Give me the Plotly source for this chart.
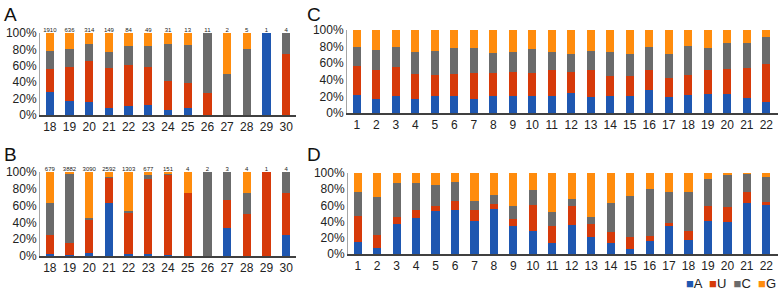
import plotly.graph_objects as go

# ---------------- data ----------------
cats_AB = list(range(18, 31))
counts_A = [1910, 636, 314, 149, 84, 49, 31, 13, 11, 2, 5, 1, 4]
A_A = [28, 17, 16, 9, 11, 12, 6.5, 8, 0, 0, 0, 100, 0]
A_U = [28, 41, 50, 48, 50, 46, 35.5, 31, 27.3, 0, 0, 0, 75]
A_C = [22, 22, 21, 20, 23, 26, 45, 46, 72.7, 50, 80, 0, 25]
A_G = [22, 20, 13, 23, 16, 16, 13, 15, 0, 50, 20, 0, 0]

counts_B = [679, 3882, 3090, 2592, 1303, 677, 151, 4, 2, 3, 4, 1, 4]
B_A = [2, 1.5, 4, 63, 2, 2.5, 1, 0, 0, 33.3, 0, 0, 25]
B_U = [23, 14.5, 40, 31, 50, 89.5, 96, 75, 0, 33.3, 50, 100, 50]
B_C = [38, 82, 1.5, 0.5, 1.5, 5, 1, 0, 100, 33.4, 25, 0, 25]
B_G = [37, 2, 54.5, 5.5, 46.5, 3, 2, 25, 0, 0, 25, 0, 0]

cats_CD = list(range(1, 23))
C_A = [22, 17, 20, 17, 21, 20, 17, 21, 21, 20, 21, 24, 19, 20, 21, 28, 19, 22, 23, 23.5, 17.5, 13]
C_U = [35, 35, 35, 30, 25, 27, 31, 27, 29, 28, 31, 26, 33, 25, 23, 24, 23.5, 24, 29, 29.5, 36.5, 46.5]
C_C = [23, 24, 24, 26, 29, 31, 30, 24, 24, 29, 22, 21, 23, 29, 27, 27, 28.5, 34.5, 26, 31, 30, 32.5]
C_G = [20, 24, 21, 27, 25, 22, 22, 28, 26, 23, 26, 29, 25, 26, 29, 21, 29, 19.5, 22, 16, 16, 8]

D_A = [15, 8, 37, 45, 52.5, 54, 41, 55, 34, 29, 14, 36, 20.5, 13, 6, 15.5, 34.5, 17, 41, 39.5, 63.5, 61]
D_U = [32.5, 15, 9, 9.5, 7, 11, 13, 6.5, 9, 31, 20.5, 23, 16.5, 14, 14.5, 7, 3.5, 11.5, 18, 19, 12.5, 3]
D_C = [29.5, 47, 42, 33.5, 25.5, 24, 12, 11.5, 16.5, 19, 17, 9.5, 8.5, 36, 50.5, 57.5, 38, 48, 34, 39, 23, 31.5]
D_G = [23, 30, 12, 12, 15, 11, 34, 27, 40.5, 21, 48.5, 31.5, 54.5, 37, 29, 20, 24, 23.5, 7, 2.5, 1, 4.5]

bases = ["A", "U", "C", "G"]
colors = {"A": "#1f57b0", "U": "#d63a0a", "C": "#6b6b6b", "G": "#ff8c0d"}
y_ticks = [0, 20, 40, 60, 80, 100]

W, H = 778, 291


def px(x):
    return x / W


def py(y):
    return 1 - y / H


fig = go.Figure()

panels = [
    ("x", "y", cats_AB, [A_A, A_U, A_C, A_G], counts_A),
    ("x2", "y2", cats_AB, [B_A, B_U, B_C, B_G], counts_B),
    ("x3", "y3", cats_CD, [C_A, C_U, C_C, C_G], None),
    ("x4", "y4", cats_CD, [D_A, D_U, D_C, D_G], None),
]

for xa, ya, cats, series, counts in panels:
    for b, vals in zip(bases, series):
        fig.add_trace(go.Bar(
            x=cats, y=vals, name=b, marker_color=colors[b], marker_line_width=0,
            width=0.42, xaxis=xa, yaxis=ya, showlegend=False,
        ))
    if counts is not None:
        fig.add_trace(go.Scatter(
            x=cats, y=[100] * len(cats), mode="text", text=[str(c) for c in counts],
            textposition="top center", textfont=dict(size=6, color="#222"),
            xaxis=xa, yaxis=ya, showlegend=False, cliponaxis=False,
        ))

font_family = "Liberation Sans, Arial, sans-serif"

xcommon = dict(showgrid=False, zeroline=False, showline=True, linecolor="#404040",
               linewidth=1.5, ticks="", tickfont=dict(size=12, color="#222"),
               tickmode="linear", dtick=1, automargin=False)
ycommon = dict(showgrid=False, zeroline=False, showline=True, linecolor="#a6a6a6",
               linewidth=1, ticks="", range=[0, 100], tickvals=y_ticks,
               ticktext=[f"{v}%" for v in y_ticks], tickfont=dict(size=12, color="#222"),
               automargin=False)

fig.update_layout(
    width=W, height=H, margin=dict(l=0, r=0, t=0, b=0),
    paper_bgcolor="white", plot_bgcolor="white",
    barmode="stack", font=dict(family=font_family),
    xaxis=dict(domain=[px(40), px(296)], range=[17.5, 30.5], anchor="y", **xcommon),
    yaxis=dict(domain=[py(115), py(33)], anchor="x", **ycommon),
    xaxis2=dict(domain=[px(40), px(296)], range=[17.5, 30.5], anchor="y2", **xcommon),
    yaxis2=dict(domain=[py(256), py(172)], anchor="x2", **ycommon),
    xaxis3=dict(domain=[px(347), px(778)], range=[0.5, 22.6], anchor="y3", **xcommon),
    yaxis3=dict(domain=[py(113), py(30)], anchor="x3", **ycommon),
    xaxis4=dict(domain=[px(348), px(778)], range=[0.5, 22.6], anchor="y4", **xcommon),
    yaxis4=dict(domain=[py(254), py(173)], anchor="x4", **ycommon),
)

# panel letters
for letter, x0, y0 in [("A", 2, 2), ("B", 2, 142), ("C", 305, 2), ("D", 305, 142)]:
    fig.add_annotation(text=letter, x=px(x0), y=py(y0), xref="paper", yref="paper",
                       xanchor="left", yanchor="top", showarrow=False,
                       font=dict(size=19, color="#111"))

# legend (bottom right)
leg = "  ".join(f"<span style='color:{colors[b]}'>■</span>{b}" for b in bases)
fig.add_annotation(text=leg, x=px(777), y=py(283), xref="paper", yref="paper",
                   xanchor="right", yanchor="middle", showarrow=False,
                   font=dict(size=13, color="#222"), borderpad=0)

fig.write_html("out.html", config={"displayModeBar": False},
               post_script="document.body.style.margin='0px';document.body.style.overflow='hidden';")
